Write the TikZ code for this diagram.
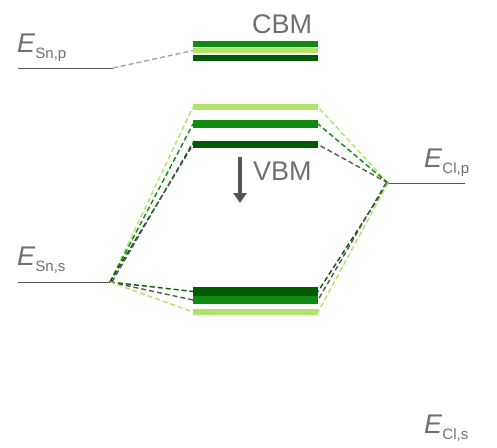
\documentclass[tikz,border=0pt]{standalone}
\usepackage{fontspec}
\setmainfont{Liberation Sans}
\usetikzlibrary{arrows.meta}
\definecolor{gdark}{HTML}{005A00}
\definecolor{gmid}{HTML}{118A11}
\definecolor{glight}{HTML}{B2E36A}
\definecolor{txtgray}{HTML}{707070}
\definecolor{linegray}{HTML}{555555}
\newcommand{\energy}[1]{\textit{E}\raisebox{-6pt}{\fontsize{15}{15}\selectfont #1}}
\begin{document}
\begin{tikzpicture}[x=1pt,y=-1pt,
  bar/.style={draw=none,minimum width=125pt,inner sep=0pt,outer sep=0pt,anchor=north west},
  level/.style={draw=linegray,line width=0.9pt},
  link/.style={dash pattern=on 5pt off 3pt,line width=1.4pt},
  lbl/.style={text=txtgray,inner sep=0pt,anchor=base west,font=\fontsize{27}{27}\selectfont},
  elbl/.style={text=txtgray,inner sep=0pt,anchor=base west,font=\fontsize{27}{27}\selectfont}]
\useasboundingbox (0,0) rectangle (497,447);

% conduction band
\node[bar,fill=gmid,minimum height=6pt] (c1) at (193,41) {};
\node[bar,fill=glight,minimum height=5pt] (c2) at (193,48) {};
\node[bar,fill=gdark,minimum height=6pt] (c3) at (193,55) {};
\node[lbl] (cbm) at (252,33) {CBM};

% valence band top
\node[bar,fill=glight,minimum height=6pt] (v1) at (193,104) {};
\node[bar,fill=gmid,minimum height=8pt] (v2) at (193,120) {};
\node[bar,fill=gdark,minimum height=7pt] (v3) at (193,141) {};
\node[lbl] (vbm) at (253,180) {VBM};
\coordinate (arA) at (240,157);
\coordinate (arB) at (240,203);
\draw[linegray,line width=4.5pt,-{Triangle[width=13pt,length=10pt]}] (arA) -- (arB);

% valence band bottom
\node[bar,fill=gdark,minimum height=9pt] (b1) at (193,287) {};
\node[bar,fill=gmid,minimum height=8pt] (b2) at (193,296) {};
\node[bar,fill=glight,minimum height=6pt] (b3) at (193,309) {};

% atomic levels
\coordinate (snpL) at (18,68);  \coordinate (snp) at (113,68);
\coordinate (snsL) at (18,282); \coordinate (sns) at (110,282);
\coordinate (clp) at (388,183); \coordinate (clpR) at (465,183);
\draw[level] (snpL) -- (snp);
\draw[level] (snsL) -- (sns);
\draw[level] (clp) -- (clpR);

\node[elbl] (lsnp) at (17,52) {\energy{Sn,p}};
\node[elbl] (lsns) at (17,265) {\energy{Sn,s}};
\node[elbl] (lclp) at (424,167) {\energy{Cl,p}};
\node[elbl] (lcls) at (424,433) {\energy{Cl,s}};

% hybridisation links
\draw[link,gray!70] (snp) -- (c2.west);

\draw[link,glight] (sns) -- (v1.west);
\draw[link,gmid] (sns) -- (v2.west);
\draw[link,gdark] (sns) -- (v3.west);
\draw[link,linegray] ([xshift=2pt]sns) -- ([yshift=2pt]v3.west);
\draw[link,gdark] (sns) -- (b1.west);
\draw[link,linegray] (sns) -- (b2.west);
\draw[link,glight] (sns) -- (b3.west);

\draw[link,glight] (clp) -- (v1.east);
\draw[link,gmid] (clp) -- (v2.east);
\draw[link,linegray] (clp) -- (v3.east);
\draw[link,gdark] (clp) -- (b1.east);
\draw[link,linegray] ([xshift=-2pt]clp) -- (b2.east);
\draw[link,glight] (clp) -- (b3.east);
\end{tikzpicture}
\end{document}
